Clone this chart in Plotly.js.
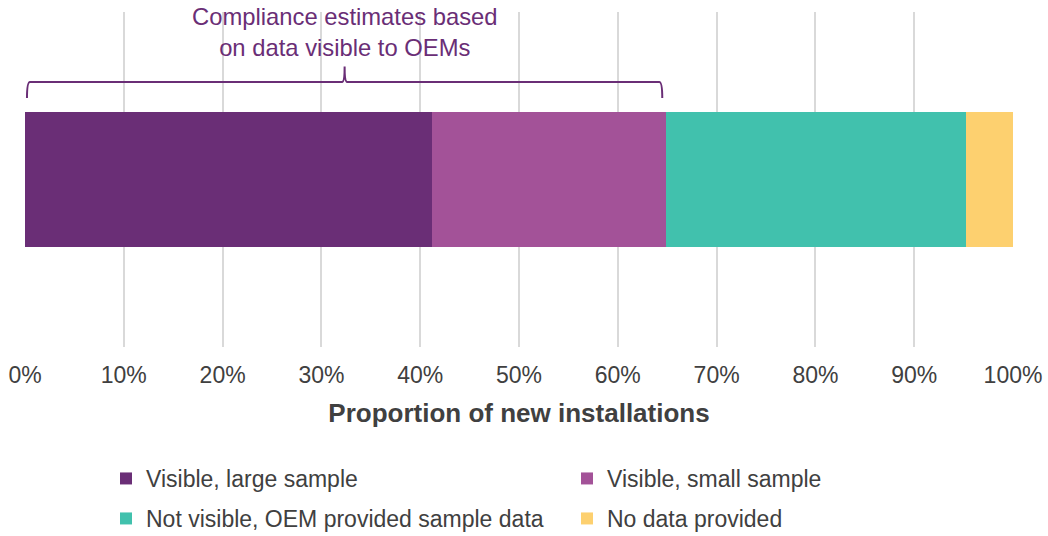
<!DOCTYPE html>
<html>
<head>
<meta charset="utf-8">
<script src="https://cdn.plot.ly/plotly-3.0.1.min.js"></script>
<style>
  html, body { margin: 0; padding: 0; background: #ffffff; }
  #chart { width: 1048px; height: 536px; }
</style>
</head>
<body>
<div id="chart"></div>
<script>
// Share of new installations by data availability (percent)
const categories = [
  'Visible, large sample',
  'Visible, small sample',
  'Not visible, OEM provided sample data',
  'No data provided'
];
const shares = [41.2, 23.7, 30.3, 4.8];
const colors = ['#6A2E76', '#A35298', '#41C1AD', '#FDD06F'];
const tickValues = [0, 10, 20, 30, 40, 50, 60, 70, 80, 90, 100];
const tickLabels = ['0%', '10%', '20%', '30%', '40%', '50%', '60%', '70%', '80%', '90%', '100%'];
const bracketLabel = 'Compliance estimates based<br>on data visible to OEMs';
const axisTitle = 'Proportion of new installations';

const FONT = 'Arial, "Liberation Sans", sans-serif';
const TEXT = '#404040';
const ACCENT = '#6A2E76';

// one legend per entry, laid out as a 2x2 grid under the axis
const legendIds = ['legend', 'legend2', 'legend3', 'legend4'];
const legendSlots = [[106, 457], [567, 457], [106, 497], [567, 497]];

const traces = categories.map((name, i) => ({
  type: 'bar',
  orientation: 'h',
  name: name,
  y: [0],
  x: [shares[i]],
  width: 1,
  marker: { color: colors[i], line: { width: 0 } },
  legend: legendIds[i],
  hoverinfo: 'skip'
}));

// brace over the segments that are visible to OEMs
const visibleTotal = shares[0] + shares[1];
const bL = 0.2, bR = visibleTotal - 0.4, bC = (bL + bR) / 2;
const yLine = 0.791, yEnd = 0.743, yPeak = 0.837, bend = 0.3;
const bracePath =
  `M ${bL},${yEnd} Q ${bL},${yLine} ${bL + bend},${yLine} ` +
  `L ${bC - 0.25},${yLine} Q ${bC},${yLine} ${bC},${yPeak} ` +
  `Q ${bC},${yLine} ${bC + 0.25},${yLine} ` +
  `L ${bR - bend},${yLine} Q ${bR},${yLine} ${bR},${yEnd}`;

const W = 1048, H = 536;
const layout = {
  width: W,
  height: H,
  margin: { l: 25, r: 35, t: 12, b: 189 },
  paper_bgcolor: '#ffffff',
  plot_bgcolor: '#ffffff',
  barmode: 'stack',
  bargap: 0,
  font: { family: FONT, color: TEXT, size: 22 },
  xaxis: {
    range: [0, 100],
    tickvals: tickValues,
    ticktext: tickLabels,
    showgrid: true,
    gridcolor: '#D9D9D9',
    gridwidth: 2,
    zeroline: false,
    showline: false,
    ticks: '',
    ticklabelstandoff: 12,
    tickfont: { family: FONT, size: 23, color: TEXT },
    title: {
      text: axisTitle,
      font: { family: FONT, size: 26, color: TEXT, weight: 'bold' },
      standoff: 16
    },
    fixedrange: true
  },
  yaxis: {
    range: [-1.243, 1.243],
    showgrid: false,
    zeroline: false,
    showticklabels: false,
    ticks: '',
    fixedrange: true
  },
  shapes: [{
    type: 'path',
    xref: 'x',
    yref: 'paper',
    path: bracePath,
    line: { color: ACCENT, width: 2 }
  }],
  annotations: [{
    xref: 'x',
    yref: 'paper',
    x: bC,
    y: 0.940,
    xanchor: 'center',
    yanchor: 'middle',
    text: bracketLabel,
    showarrow: false,
    align: 'center',
    font: { family: FONT, size: 23.8, color: ACCENT }
  }],
  showlegend: true
};

legendIds.forEach((id, i) => {
  layout[id] = {
    orientation: 'h',
    xref: 'container',
    yref: 'container',
    x: legendSlots[i][0] / W,
    y: 1 - legendSlots[i][1] / H,
    xanchor: 'left',
    yanchor: 'top',
    bgcolor: 'rgba(0,0,0,0)',
    borderwidth: 0,
    font: { family: FONT, size: 23, color: TEXT },
    itemclick: false,
    itemdoubleclick: false
  };
});

Plotly.newPlot('chart', traces, layout, { displayModeBar: false, staticPlot: true });
</script>
</body>
</html>
